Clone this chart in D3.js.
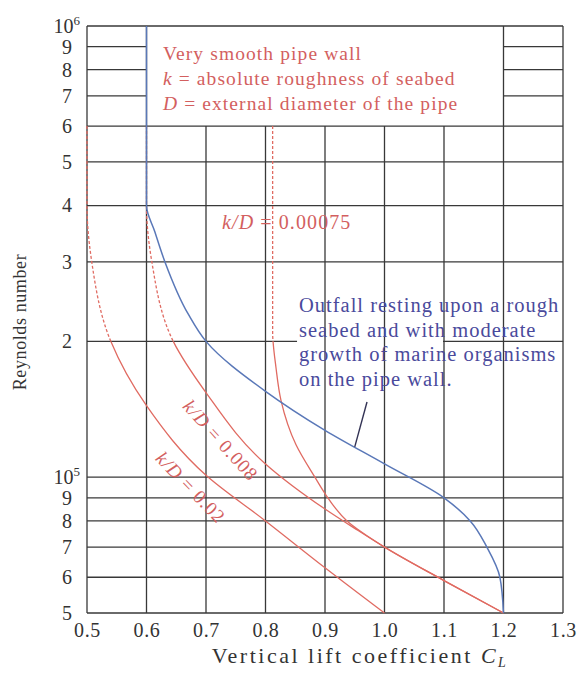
<!DOCTYPE html>
<html><head><meta charset="utf-8">
<script src="https://cdn.jsdelivr.net/npm/d3@7"></script>
<style>
body{margin:0;background:#fff}
svg{display:block}
text{font-family:"Liberation Serif","DejaVu Serif",serif}
</style>
</head><body>
<svg id="chart" width="577" height="677"></svg>
<script>
// ---- data ----
const xTickValues = [0.5, 0.6, 0.7, 0.8, 0.9, 1.0, 1.1, 1.2, 1.3];
const xTickLabels = ["0.5", "0.6", "0.7", "0.8", "0.9", "1.0", "1.1", "1.2", "1.3"];
const yTickValues = [5e4, 6e4, 7e4, 8e4, 9e4, 1e5, 2e5, 3e5, 4e5, 5e5, 6e5, 7e5, 8e5, 9e5, 1e6];
const yTickLabels = ["5", "6", "7", "8", "9", "10^5", "2", "3", "4", "5", "6", "7", "8", "9", "10^6"];

// Outfall on rough seabed with marine growth (blue)
const roughCL = [0.6, 0.6, 0.614, 0.631, 0.67, 0.7, 0.8, 0.9, 1.0, 1.1, 1.144, 1.172, 1.194, 1.2];
const roughRe = [1e6, 4e5, 3.5e5, 3e5, 2.3e5, 2e5, 1.55e5, 1.27e5, 1.07e5, 9e4, 8e4, 7e4, 6e4, 5e4];

// k/D = 0.02
const kd002CL = [0.5, 0.5, 0.508, 0.54, 0.6, 0.7, 0.8, 0.9, 1.0];
const kd002Re = [6e5, 4e5, 3e5, 2e5, 1.44e5, 1.01e5, 8.0e4, 6.3e4, 5e4];

// k/D = 0.008
const kd0008CL = [0.6, 0.6, 0.609, 0.645, 0.7, 0.8, 0.9, 0.95, 1.0, 1.1, 1.2];
const kd0008Re = [6e5, 4e5, 3e5, 2e5, 1.54e5, 1.07e5, 8.5e4, 7.7e4, 7e4, 5.9e4, 5e4];

// k/D = 0.00075
const kd00075CL = [0.812, 0.812, 0.8176, 0.826, 0.8513, 0.883, 0.9, 0.937, 1.0, 1.1, 1.2];
const kd00075Re = [6e5, 2.1e5, 1.75e5, 1.48e5, 1.18e5, 1e5, 9.2e4, 8.0e4, 7e4, 5.9e4, 5e4];

const dashLimitRe = 2e5;

const boxLines = [
  [["", "Very smooth pipe wall"]],
  [["i", "k"], ["", " = absolute roughness of seabed"]],
  [["i", "D"], ["", " = external diameter of the pipe"]]
];
const blueLines = ["Outfall resting upon a rough", "seabed and with moderate", "growth of marine organisms", "on the pipe wall."];

// ---- layout ----
const svg = d3.select("#chart");
const L = 87, R = 563, T = 26, B = 613;
const x = d3.scaleLinear().domain([0.5, 1.3]).range([L, R]);
const y = d3.scaleLog().domain([5e4, 1e6]).range([B, T]);

const gridColor = "#383838";
const redLine = "#e06b62", redText = "#d35f5f";
const blueLine = "#5a78b8", blueText = "#4a4a9c";

const defs = svg.append("defs");
defs.append("clipPath").attr("id", "clipTop").append("rect")
  .attr("x", 0).attr("y", 0).attr("width", 577).attr("height", y(dashLimitRe));
defs.append("clipPath").attr("id", "clipBot").append("rect")
  .attr("x", 0).attr("y", y(dashLimitRe)).attr("width", 577).attr("height", 677 - y(dashLimitRe));

// horizontal grid
const hg = svg.append("g");
yTickValues.forEach(v => {
  const segs = (v > 6e5 && v < 1e6) ? [[0.5, 0.6], [1.2, 1.3]] : [[0.5, 1.3]];
  segs.forEach(s => hg.append("line")
    .attr("x1", x(s[0])).attr("x2", x(s[1])).attr("y1", y(v)).attr("y2", y(v))
    .attr("stroke", gridColor).attr("stroke-width", 1.3));
});
// white mask behind the blue note
svg.append("rect").attr("x", x(0.853)).attr("y", y(2e5) - 4)
  .attr("width", x(1.1) - x(0.853) - 1).attr("height", 8).attr("fill", "#fff");

// vertical grid
const vg = svg.append("g");
xTickValues.forEach(v => {
  const top = (v > 0.6 && v < 1.2) ? 6e5 : 1e6;
  vg.append("line").attr("x1", x(v)).attr("x2", x(v)).attr("y1", y(top)).attr("y2", y(5e4))
    .attr("stroke", gridColor).attr("stroke-width", 1.3);
});

// axes
const xAxis = d3.axisBottom(x).tickValues(xTickValues)
  .tickFormat((d, i) => xTickLabels[i]).tickSize(0).tickPadding(10);
const gx = svg.append("g").attr("transform", `translate(0,${B})`).call(xAxis);
gx.select(".domain").remove();
gx.selectAll("text").attr("font-size", 20).attr("fill", "#333")
  .attr("font-family", "Liberation Serif").attr("letter-spacing", 0.6);

const yAxis = d3.axisLeft(y).tickValues(yTickValues)
  .tickFormat((d, i) => yTickLabels[i]).tickSize(0).tickPadding(15);
const gy = svg.append("g").attr("transform", `translate(${L},0)`).call(yAxis);
gy.select(".domain").remove();
gy.selectAll("text").attr("font-size", 20).attr("fill", "#333")
  .attr("font-family", "Liberation Serif")
  .each(function () {
    const t = d3.select(this);
    const s = t.text();
    if (s.includes("^")) {
      const [base, ex] = s.split("^");
      t.text(null).attr("x", -7);
      t.append("tspan").text(base);
      t.append("tspan").attr("font-size", 13).attr("dy", "-0.6em").text(ex);
    }
  });

// axis titles
svg.append("text").attr("transform", `translate(26,322) rotate(-90)`)
  .attr("text-anchor", "middle").attr("font-size", 18).attr("letter-spacing", 0.6)
  .attr("fill", "#333").text("Reynolds number");
const xt = svg.append("text").attr("x", 360).attr("y", 663)
  .attr("text-anchor", "middle").attr("font-size", 22).attr("letter-spacing", 2.5)
  .attr("fill", "#333");
xt.append("tspan").text("Vertical lift coefficient ");
xt.append("tspan").attr("font-style", "italic").text("C");
xt.append("tspan").attr("font-style", "italic").attr("font-size", 14).attr("dy", "0.3em").text("L");

// curves
const lineGen = d3.line().x(d => x(d[0])).y(d => y(d[1])).curve(d3.curveMonotoneY);
const zip = (a, b) => a.map((v, i) => [v, b[i]]);

[[kd002CL, kd002Re], [kd0008CL, kd0008Re], [kd00075CL, kd00075Re]].forEach(([c, r]) => {
  const pts = zip(c, r);
  svg.append("path").attr("d", lineGen(pts)).attr("fill", "none")
    .attr("stroke", redLine).attr("stroke-width", 1.3).attr("stroke-dasharray", "3,2")
    .attr("clip-path", "url(#clipTop)");
  svg.append("path").attr("d", lineGen(pts)).attr("fill", "none")
    .attr("stroke", redLine).attr("stroke-width", 1.3)
    .attr("clip-path", "url(#clipBot)");
});
svg.append("path").attr("d", lineGen(zip(roughCL, roughRe))).attr("fill", "none")
  .attr("stroke", blueLine).attr("stroke-width", 1.5);

// leader line for the blue note
svg.append("line").attr("x1", x(0.9706)).attr("y1", y(1.468e5))
  .attr("x2", x(0.95)).attr("y2", y(1.167e5))
  .attr("stroke", "#333355").attr("stroke-width", 1.4);

// top-left note box text
boxLines.forEach((parts, i) => {
  const t = svg.append("text").attr("x", 163).attr("y", 60 + i * 25)
    .attr("font-size", 19.5).attr("letter-spacing", 1.1).attr("fill", redText);
  parts.forEach(p => t.append("tspan").attr("font-style", p[0] === "i" ? "italic" : null).text(p[1]));
});

// blue note
blueLines.forEach((s, i) => {
  svg.append("text").attr("x", 299).attr("y", 312 + i * 24.7)
    .attr("font-size", 20.5).attr("letter-spacing", 1.0).attr("fill", blueText).text(s);
});

// k/D labels
function kdLabel(val, cx, cy, rot) {
  const t = svg.append("text").attr("transform", `translate(${cx},${cy}) rotate(${rot})`)
    .attr("text-anchor", "middle").attr("dominant-baseline", "central")
    .attr("font-size", 19).attr("letter-spacing", 1).attr("fill", redText);
  t.append("tspan").attr("font-style", "italic").text("k/D");
  t.append("tspan").text(" = " + val);
}
svg.append("text").attr("x", 222).attr("y", 229).attr("font-size", 20)
  .attr("letter-spacing", 1.1).attr("fill", redText)
  .call(t => { t.append("tspan").attr("font-style", "italic").text("k/D"); t.append("tspan").text(" = 0.00075"); });
kdLabel("0.008", 221, 440, 48);
kdLabel("0.02", 191, 487, 46);
</script>
</body></html>
